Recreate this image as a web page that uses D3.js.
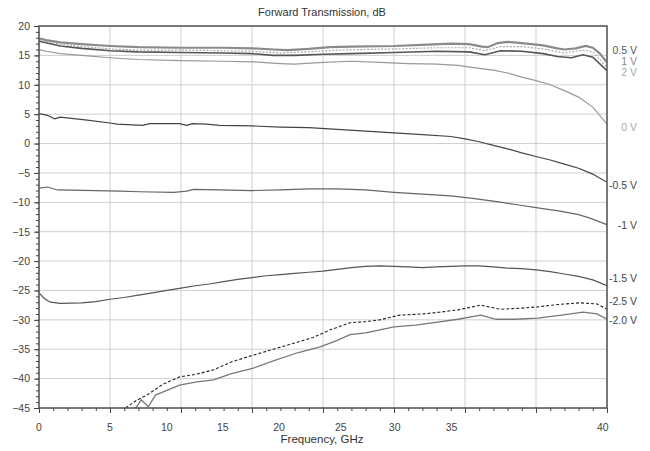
<!DOCTYPE html>
<html lang="en">
<head>
    <meta charset="UTF-8">
    <title>Forward Transmission, dB</title>
    <script src="https://d3js.org/d3.v7.min.js"></script>
    <style>
        body { margin: 0; background: #fff; }
        text { font-family: "Liberation Sans Narrow", "Arial Narrow", "Liberation Sans", Arial, sans-serif; }
    </style>
</head>
<body>
    <svg width="650" height="451"></svg>
    <script>
        // [frequency GHz, dB]
        const v05 = [[0,17.9],[0.5,17.6],[1.5,17.2],[3,16.9],[5,16.6],[7,16.4],[10,16.3],[13,16.3],[15,16.2],[16.5,16.0],[17.5,15.9],[19,16.1],[20.5,16.4],[22,16.5],[25,16.6],[27,16.8],[29,17.0],[30.3,16.9],[31.2,16.5],[31.6,16.4],[32.3,17.1],[33,17.3],[34,17.1],[35.5,16.7],[36.5,16.2],[37,16.0],[37.8,16.2],[38.5,16.6],[39,16.3],[39.5,15.3],[40,13.8]];
        const v1 = [[0,17.6],[1.5,16.9],[3,16.5],[5,16.1],[7,15.9],[10,15.9],[13,15.8],[15,15.7],[17,15.4],[19,15.6],[21,15.9],[25,16.1],[28,16.3],[30.3,16.3],[31.4,15.8],[32.5,16.5],[34,16.5],[35.5,16.1],[37,15.4],[38.3,15.9],[39,15.6],[40,13.0]];
        const v2 = [[0,17.4],[1.5,16.6],[3,16.2],[5,15.8],[7,15.6],[10,15.5],[13,15.4],[15,15.3],[16.5,15.0],[18,15.0],[20,15.2],[22,15.3],[25,15.5],[28,15.7],[30.3,15.6],[31.4,15.1],[32.5,15.8],[34,15.7],[35.5,15.3],[36.5,14.8],[37.5,14.6],[38.3,15.1],[39,14.7],[40,12.4]];
        const v0 = [[0,16.0],[0.5,15.7],[1.5,15.3],[3,15.0],[5,14.6],[7,14.3],[10,14.1],[13,14.0],[15,13.9],[17,13.6],[18,13.5],[20,13.8],[22,14.0],[24,13.8],[26,13.6],[28,13.5],[29.5,13.3],[31,12.8],[32,12.5],[33,12.0],[34,11.3],[35,10.7],[36,10.0],[37,9.0],[38,7.9],[39,6.2],[40,3.3]];
        const vm05 = [[0,5.1],[0.6,4.8],[1.1,4.2],[1.5,4.5],[3.4,4.0],[5,3.5],[5.5,3.3],[7.3,3.1],[7.8,3.4],[9.9,3.4],[10.4,3.1],[10.8,3.4],[11.8,3.3],[12.7,3.1],[15,3.0],[17,2.8],[19,2.7],[21,2.4],[23,2.1],[25,1.8],[27,1.5],[29,1.2],[30,0.8],[31,0.3],[32,-0.3],[33,-0.9],[34,-1.6],[35,-2.2],[36,-2.8],[37,-3.5],[38,-4.2],[39,-5.2],[40,-6.6]];
        const vm1 = [[0,-7.6],[0.6,-7.4],[1.3,-7.9],[4,-8.0],[5.7,-8.1],[7.1,-8.2],[9.5,-8.3],[10.4,-8.1],[10.9,-7.8],[12.7,-7.9],[15,-8.0],[17,-7.9],[19,-7.7],[21,-7.7],[23,-7.9],[25,-8.3],[27,-8.6],[29,-8.9],[30.4,-9.3],[32,-9.8],[33.9,-10.5],[35,-10.9],[36.7,-11.5],[38,-12.1],[38.8,-12.7],[40,-13.8]];
        const vm15 = [[0,-25.4],[0.4,-26.4],[0.8,-27.0],[1.5,-27.2],[3,-27.1],[4,-26.9],[5,-26.5],[6,-26.2],[7,-25.8],[8,-25.4],[9,-25.0],[10,-24.6],[11,-24.2],[12,-23.9],[13,-23.5],[14,-23.1],[15,-22.8],[16,-22.5],[17,-22.3],[18,-22.1],[19,-21.9],[20,-21.7],[21,-21.4],[22,-21.1],[23,-20.9],[24,-20.8],[25,-20.9],[26,-21.0],[27,-21.1],[28,-21.0],[29,-20.9],[30,-20.8],[31,-20.8],[32,-21.0],[33,-21.2],[34,-21.3],[35,-21.5],[36,-21.8],[37,-22.2],[38,-22.6],[39,-23.2],[40,-24.2]];
        const vm25 = [[6.1,-45],[6.8,-43.8],[7.6,-42.8],[8.7,-41.0],[9.9,-39.7],[11,-39.3],[12.3,-38.5],[13.5,-37.2],[15.1,-36.0],[16.5,-35.0],[18.2,-33.8],[19.3,-33.0],[20.5,-31.7],[21.9,-30.5],[23,-30.3],[24,-30.0],[25.4,-29.2],[27,-29.0],[28.2,-28.7],[29.5,-28.3],[31.1,-27.5],[32.5,-28.2],[34,-28.0],[35.1,-27.8],[36.5,-27.4],[38.1,-27.1],[39.3,-27.3],[40,-28.2]];
        const vm2 = [[6.8,-45],[7.2,-43.6],[7.7,-44.8],[8.2,-42.8],[9.9,-41.1],[11,-40.6],[12.3,-40.2],[13.5,-39.2],[15.1,-38.2],[16.5,-37.0],[18.2,-35.6],[19.8,-34.6],[21,-33.5],[21.9,-32.5],[23,-32.2],[24,-31.7],[25,-31.2],[26.5,-30.9],[27.7,-30.5],[29.5,-29.9],[31.1,-29.2],[32.2,-29.9],[33.5,-29.9],[35.1,-29.7],[36.8,-29.2],[38.3,-28.7],[39.3,-29.0],[40,-29.9]];

        const seriesNames = ["0.5 V", "1 V", "2 V", "0 V", "-0.5 V", "-1 V", "-1.5 V", "-2.5 V", "-2.0 V"];
        const seriesData = [v05, v1, v2, v0, vm05, vm1, vm15, vm25, vm2];
        // dB value where each right-hand label sits
        const labelAt = [15.9, 14.0, 12.2, 2.8, -7.05, -13.9, -22.9, -26.8, -30.0];

        const yTicks = [20, 15, 10, 5, 0, -5, -10, -15, -20, -25, -30, -35, -40, -45];
        const xGrid = [0, 5, 10, 15, 20, 25, 30, 35, 40];
        const xTickLabels = ["0", "5", "10", "15", "20", "25", "30", "35", "40"];
        // the source places its frequency labels off the grid
        const xTickLabelAt = [0, 5, 9, 12.95, 16.9, 21.25, 25.05, 29.05, 39.7];

        const styles = [
            {stroke: "#8a8a8a", width: 2.2, dash: null},
            {stroke: "#aaa", width: 1.2, dash: "2,1.5"},
            {stroke: "#555", width: 1.6, dash: null},
            {stroke: "#999", width: 1.2, dash: null},
            {stroke: "#444", width: 1.2, dash: null},
            {stroke: "#666", width: 1.2, dash: null},
            {stroke: "#555", width: 1.2, dash: null},
            {stroke: "#222", width: 1.1, dash: "3,2"},
            {stroke: "#777", width: 1.3, dash: null}
        ];
        const labelColors = ["#555", "#888", "#aaa", "#aaa", "#444", "#444", "#444", "#444", "#444"];

        const svg = d3.select("svg"),
              margin = {top: 26, right: 43, bottom: 43, left: 39},
              width = +svg.attr("width") - margin.left - margin.right,
              height = +svg.attr("height") - margin.top - margin.bottom;

        const x = d3.scaleLinear().domain([0, 40]).range([0, width]);
        const y = d3.scaleLinear().domain([-45, 20]).range([height, 0]);

        svg.append("text")
           .attr("x", 322)
           .attr("y", 16)
           .attr("text-anchor", "middle")
           .attr("font-size", 11)
           .attr("fill", "#333")
           .text("Forward Transmission, dB");

        const g = svg.append("g")
                     .attr("transform", `translate(${margin.left},${margin.top})`);

        // grid
        g.selectAll(".hgrid")
         .data(yTicks)
         .enter().append("line")
         .attr("x1", 0).attr("x2", width)
         .attr("y1", d => y(d)).attr("y2", d => y(d))
         .attr("stroke", "#cfcfcf");

        g.selectAll(".vgrid")
         .data(xGrid)
         .enter().append("line")
         .attr("y1", 0).attr("y2", height)
         .attr("x1", d => x(d)).attr("x2", d => x(d))
         .attr("stroke", "#cfcfcf");

        // curves
        const line = d3.line().x(d => x(d[0])).y(d => y(d[1]));
        g.append("clipPath").attr("id", "clip")
         .append("rect").attr("width", width).attr("height", height);

        const curves = g.append("g").attr("clip-path", "url(#clip)");
        seriesData.forEach((s, i) => {
            curves.append("path")
                  .datum(s)
                  .attr("d", line)
                  .attr("fill", "none")
                  .attr("stroke", styles[i].stroke)
                  .attr("stroke-width", styles[i].width)
                  .attr("stroke-dasharray", styles[i].dash);
        });

        // frame
        g.append("rect")
         .attr("width", width).attr("height", height)
         .attr("fill", "none")
         .attr("stroke", "#555")
         .attr("stroke-width", 1.5);

        // y ticks
        const yAxis = d3.axisLeft(y).tickValues(d3.range(-45, 21, 1))
                        .tickSize(3).tickFormat("");
        g.append("g").call(yAxis)
         .call(a => a.select(".domain").remove())
         .selectAll("line").attr("stroke", "#444");
        g.append("g")
         .call(d3.axisLeft(y).tickValues(yTicks).tickSize(5).tickPadding(4))
         .call(a => a.select(".domain").remove())
         .call(a => a.selectAll("line").attr("stroke", "#444"))
         .selectAll("text")
         .attr("font-size", 10.5)
         .attr("fill", "#444")
         .attr("font-family", "\"Liberation Sans Narrow\", \"Arial Narrow\", sans-serif");

        // x ticks
        g.append("g")
         .attr("transform", `translate(0,${height})`)
         .call(d3.axisBottom(x).tickValues(d3.range(0, 41, 1)).tickSize(3).tickFormat(""))
         .call(a => a.select(".domain").remove())
         .selectAll("line").attr("stroke", "#444");
        g.append("g")
         .attr("transform", `translate(0,${height})`)
         .call(d3.axisBottom(x).tickValues(xGrid).tickSize(5).tickFormat(""))
         .call(a => a.select(".domain").remove())
         .selectAll("line").attr("stroke", "#444");

        g.selectAll(".xlab")
         .data(xTickLabels)
         .enter().append("text")
         .attr("x", (d, i) => x(xTickLabelAt[i]))
         .attr("y", height + 23)
         .attr("text-anchor", "middle")
         .attr("font-size", 10.5)
         .attr("fill", "#444")
         .text(d => d);

        svg.append("text")
           .attr("x", 322)
           .attr("y", 443)
           .attr("text-anchor", "middle")
           .attr("font-size", 11.5)
           .attr("fill", "#333")
           .text("Frequency, GHz");

        // series labels on the right
        g.selectAll(".slab")
         .data(seriesNames)
         .enter().append("text")
         .attr("x", width + 30)
         .attr("y", (d, i) => y(labelAt[i]))
         .attr("dy", "0.35em")
         .attr("text-anchor", "end")
         .attr("font-size", 10.5)
         .attr("fill", (d, i) => labelColors[i])
         .text(d => d);
    </script>
</body>
</html>
